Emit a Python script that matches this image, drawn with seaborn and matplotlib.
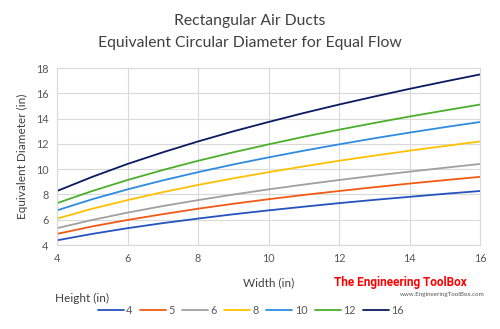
import matplotlib
matplotlib.use("Agg")
import matplotlib.pyplot as plt
import seaborn as sns
import pandas as pd

widths = [4, 5, 6, 7, 8, 9, 10, 11, 12, 13, 14, 15, 16]
heights = [4, 5, 6, 8, 10, 12, 16]
d_h4 = [4.37, 4.88, 5.33, 5.73, 6.09, 6.43, 6.74, 7.03, 7.31, 7.57, 7.81, 8.05, 8.27]
d_h5 = [4.88, 5.47, 5.98, 6.44, 6.87, 7.26, 7.62, 7.96, 8.27, 8.57, 8.86, 9.13, 9.39]
d_h6 = [5.33, 5.98, 6.56, 7.08, 7.55, 7.99, 8.40, 8.78, 9.14, 9.48, 9.80, 10.11, 10.41]
d_h8 = [6.09, 6.87, 7.55, 8.18, 8.75, 9.27, 9.76, 10.22, 10.66, 11.07, 11.46, 11.83, 12.19]
d_h10 = [6.74, 7.62, 8.40, 9.11, 9.76, 10.37, 10.93, 11.46, 11.96, 12.44, 12.89, 13.32, 13.73]
d_h12 = [7.31, 8.27, 9.14, 9.93, 10.66, 11.33, 11.96, 12.56, 13.12, 13.65, 14.16, 14.64, 15.11]
d_h16 = [8.27, 9.39, 10.41, 11.33, 12.19, 12.99, 13.73, 14.44, 15.11, 15.74, 16.35, 16.93, 17.49]
series = [d_h4, d_h5, d_h6, d_h8, d_h10, d_h12, d_h16]
colors = ["#2452C0", "#F05A14", "#A0A0A0", "#FFC000", "#2E8BE0", "#4CAF2A", "#0A1A60"]
y_ticks = [4, 6, 8, 10, 12, 14, 16, 18]
x_ticks = [4, 6, 8, 10, 12, 14, 16]

rows = []
for h, vals in zip(heights, series):
    for w, v in zip(widths, vals):
        rows.append({"Width": w, "Diameter": v, "Height": str(h)})
df = pd.DataFrame(rows)

sns.set_theme(style="white")
plt.rcParams["font.family"] = ["Lato", "DejaVu Sans"]

fig = plt.figure(figsize=(5, 3.29), dpi=100)
ax = fig.add_axes([0.114, 0.2553, 0.846, 0.538])
sns.lineplot(data=df, x="Width", y="Diameter", hue="Height",
             hue_order=[str(h) for h in heights], palette=colors,
             linewidth=1.3, ax=ax, legend=True)

ax.set_xlim(4, 16)
ax.set_ylim(4, 18)
ax.set_xticks(x_ticks)
ax.set_yticks(y_ticks)
ax.tick_params(axis="both", labelsize=7.8, colors="#595959", length=0, pad=6)
ax.grid(True, color="#D9D9D9", linewidth=0.8)
for s in ax.spines.values():
    s.set_color("#D9D9D9")
    s.set_linewidth(0.8)
ax.set_xlabel("Width (in)", fontsize=8.5, color="#404040", labelpad=9)
ax.set_ylabel("Equivalent Diameter (in)", fontsize=8.5, color="#404040", labelpad=6)

handles, labels = ax.get_legend_handles_labels()
ax.legend(handles, labels, ncol=7, loc="center", bbox_to_anchor=(0.502, 0.057),
          bbox_transform=fig.transFigure, frameon=False, fontsize=7.8,
          handlelength=2.4, handletextpad=0.2, columnspacing=0.7,
          labelcolor="#595959")

fig.text(0.5, 0.935, "Rectangular Air Ducts", ha="center", va="center",
         fontsize=11.3, color="#404040")
fig.text(0.5, 0.868, "Equivalent Circular Diameter for Equal Flow", ha="center",
         va="center", fontsize=11.3, color="#404040")
fig.text(0.11, 0.094, "Height (in)", ha="left", va="center", fontsize=8.5,
         color="#404040")
fig.text(0.8, 0.14, "The Engineering ToolBox", ha="center", va="center",
         fontsize=8.5, color="#FF0000", fontweight="bold",
         family=["Liberation Sans Narrow", "Roboto", "DejaVu Sans"])
fig.text(0.97, 0.106, "www.EngineeringToolBox.com", ha="right", va="center",
         fontsize=4.5, color="#555555")

fig.savefig("out.png", dpi=100)
